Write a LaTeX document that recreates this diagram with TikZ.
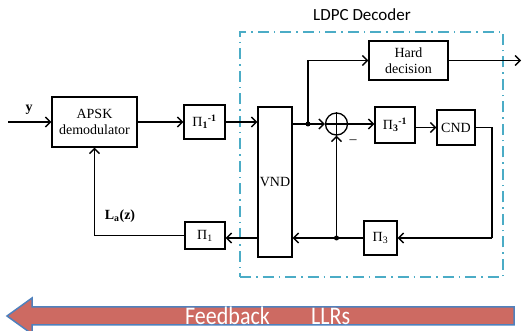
\documentclass[tikz,border=0pt]{standalone}
\usepackage{fontspec}
\setmainfont{Liberation Serif}
\newfontfamily\calib{Carlito}
\usetikzlibrary{arrows.meta}
\definecolor{aqua}{HTML}{4BACC6}
\definecolor{fbred}{HTML}{CD6A62}
\definecolor{fbblue}{HTML}{4F81BD}
\begin{document}
\begin{tikzpicture}[x=1pt,y=-1pt]
\tikzset{
 blk/.style={draw, line width=1.3pt, inner sep=0pt, align=center, font=\fontsize{14}{16}\selectfont},
 conn/.style={line width=1.4pt},
 arr/.style={conn, -{Straight Barb[length=5pt,width=10pt]}},
 jdot/.style={circle, fill, inner sep=0pt, minimum size=5pt},
 ldpc/.style={draw=aqua, line width=2.2pt, dash pattern=on 11pt off 5pt on 1.5pt off 5pt},
 lbl/.style={inner sep=0pt, font=\fontsize{14}{16}\selectfont\bfseries},
}
\useasboundingbox (0,0) rectangle (523,331);
% decoder frame
\node[ldpc, minimum width=263pt, minimum height=245pt, inner sep=0pt] (dec) at (371.5,154.5) {};
\node[inner sep=0pt, font=\calib\fontsize{17}{18}\selectfont] (declabel) at (362,15) {LDPC Decoder};
% blocks
\node[blk, minimum width=85pt, minimum height=50pt] (apsk) at (94.5,122) {APSK\\demodulator};
\node[blk, minimum width=41pt, minimum height=34pt] (p1i) at (204.5,122) {Π\textsubscript{\textbf{1}}\textsuperscript{\textbf{-1}}};
\node[blk, minimum width=34pt, minimum height=150pt] (vnd) at (275,182) {VND};
\node[blk, minimum width=79pt, minimum height=39pt] (hard) at (408.5,60.5) {Hard\\decision};
\node[draw, circle, line width=1.3pt, minimum size=22pt, inner sep=0pt] (sum) at (336.5,124) {};
\draw[line width=1.3pt] (sum.north) -- (sum.south) (sum.west) -- (sum.east);
\node[blk, minimum width=40pt, minimum height=36pt] (p3i) at (395,125) {Π\textsubscript{\textbf{3}}\textsuperscript{\textbf{-1}}};
\node[blk, minimum width=38pt, minimum height=35pt] (cnd) at (456,127.5) {CND};
\node[blk, minimum width=33pt, minimum height=34pt] (p3) at (380.5,238) {Π\textsubscript{3}};
\node[blk, minimum width=40pt, minimum height=27pt] (p1) at (205,235.5) {Π\textsubscript{1}};
% labels
\node[lbl] (ylbl) at (29,110) {y};
\node[lbl] (lalbl) at (120,216) {L\textsubscript{a}(z)};
\node[inner sep=0pt, font=\fontsize{14}{16}\selectfont] (minus) at (353,142) {\textendash};
% coordinates
\coordinate (yin) at (8,122);
\coordinate (d1) at (308,124);
\coordinate (out) at (521,60.5);
\coordinate (rc) at (492,238);
\coordinate (d2) at (336.5,238);
% connectors
\draw[arr] (yin) -- (apsk.west);
\draw[arr] (apsk.east) -- (p1i.west);
\draw[arr] (p1i.east) -- (p1i.east -| vnd.west);
\draw[conn] (vnd.east |- d1) -- (d1);
\draw[arr] (d1) -- (sum.west);
\draw[arr] (d1) |- (hard.west);
\draw[arr] (hard.east) -- (out);
\draw[arr] (sum.east) -- (sum.east -| p3i.west);
\draw[arr] (p3i.east |- cnd.west) -- (cnd.west);
\draw[conn] (cnd.east) -| (rc);
\draw[arr] (rc) -- (p3.east);
\draw[arr] (p3.west) -- (d2 -| vnd.east);
\draw[arr] (d2) -- (sum.south);
\draw[arr] (vnd.west |- d2) -- (p1.east |- d2);
\draw[arr] (p1.west) -| (apsk.south);
\node[jdot] (j1) at (d1) {};
\node[jdot] (j2) at (d2) {};
% feedback arrow
\draw[fill=fbred, draw=fbblue, line width=1.5pt, line join=miter]
  (514,307) -- (32,307) -- (32,298) -- (7,316) -- (32,334) -- (32,325) -- (514,325) -- cycle;
\node[white, inner sep=0pt, anchor=base west, font=\calib\fontsize{22}{22}\selectfont] (fb) at (185,325) {\scalebox{1}[1.15]{Feedback}};
\node[white, inner sep=0pt, anchor=base west, font=\calib\fontsize{22}{22}\selectfont] (llr) at (311,325) {\scalebox{1}[1.15]{LLRs}};
\end{tikzpicture}
\end{document}
